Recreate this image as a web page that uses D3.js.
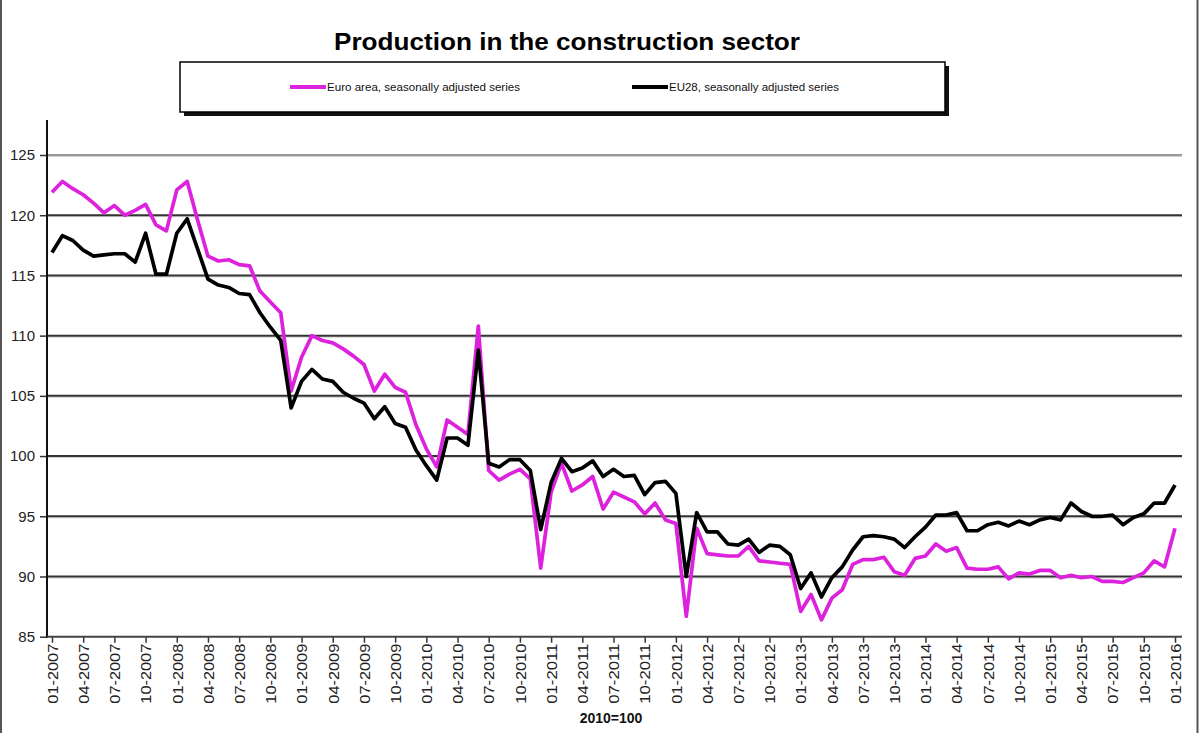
<!DOCTYPE html>
<html>
<head>
<meta charset="utf-8">
<script src="https://cdn.jsdelivr.net/npm/d3@7"></script>
<style>
  html, body { margin: 0; padding: 0; background: #fff; }
  svg { display: block; font-family: "Liberation Sans", Arial, sans-serif; }
</style>
</head>
<body>
<svg id="chart" width="1200" height="733"></svg>
<script>
// ---- Data ----
const months = [
  "01-2007","02-2007","03-2007","04-2007","05-2007","06-2007","07-2007","08-2007","09-2007","10-2007","11-2007","12-2007",
  "01-2008","02-2008","03-2008","04-2008","05-2008","06-2008","07-2008","08-2008","09-2008","10-2008","11-2008","12-2008",
  "01-2009","02-2009","03-2009","04-2009","05-2009","06-2009","07-2009","08-2009","09-2009","10-2009","11-2009","12-2009",
  "01-2010","02-2010","03-2010","04-2010","05-2010","06-2010","07-2010","08-2010","09-2010","10-2010","11-2010","12-2010",
  "01-2011","02-2011","03-2011","04-2011","05-2011","06-2011","07-2011","08-2011","09-2011","10-2011","11-2011","12-2011",
  "01-2012","02-2012","03-2012","04-2012","05-2012","06-2012","07-2012","08-2012","09-2012","10-2012","11-2012","12-2012",
  "01-2013","02-2013","03-2013","04-2013","05-2013","06-2013","07-2013","08-2013","09-2013","10-2013","11-2013","12-2013",
  "01-2014","02-2014","03-2014","04-2014","05-2014","06-2014","07-2014","08-2014","09-2014","10-2014","11-2014","12-2014",
  "01-2015","02-2015","03-2015","04-2015","05-2015","06-2015","07-2015","08-2015","09-2015","10-2015","11-2015","12-2015",
  "01-2016"
];

const tickLabels = [
  "01-2007","04-2007","07-2007","10-2007","01-2008","04-2008","07-2008","10-2008",
  "01-2009","04-2009","07-2009","10-2009","01-2010","04-2010","07-2010","10-2010",
  "01-2011","04-2011","07-2011","10-2011","01-2012","04-2012","07-2012","10-2012",
  "01-2013","04-2013","07-2013","10-2013","01-2014","04-2014","07-2014","10-2014",
  "01-2015","04-2015","07-2015","10-2015","01-2016"
];

const yTicks = [85, 90, 95, 100, 105, 110, 115, 120, 125];

const euroArea = [
  121.9,122.8,122.2,121.7,121.0,120.2,120.8,120.0,120.4,120.9,119.2,118.7,
  122.1,122.8,119.6,116.6,116.2,116.3,115.9,115.8,113.7,112.8,111.9,105.4,
  108.2,110.0,109.6,109.4,108.9,108.3,107.6,105.4,106.8,105.7,105.3,102.6,
  100.6,99.1,103.0,102.4,101.8,110.8,98.8,98.0,98.5,98.9,98.1,90.7,
  97.0,99.4,97.1,97.6,98.3,95.6,97.0,96.6,96.2,95.2,96.1,94.7,
  94.4,86.7,94.0,91.9,91.8,91.7,91.7,92.5,91.3,91.2,91.1,91.0,
  87.1,88.5,86.4,88.2,88.9,91.0,91.4,91.4,91.6,90.4,90.1,91.5,
  91.7,92.7,92.1,92.4,90.7,90.6,90.6,90.8,89.8,90.3,90.2,90.5,
  90.5,89.9,90.1,89.9,90.0,89.6,89.6,89.5,89.9,90.3,91.3,90.8,
  94.0
];

const eu28 = [
  116.9,118.3,117.9,117.1,116.6,116.7,116.8,116.8,116.1,118.5,115.1,115.1,
  118.5,119.7,117.2,114.7,114.2,114.0,113.5,113.4,111.9,110.7,109.6,104.0,
  106.2,107.2,106.4,106.2,105.3,104.8,104.4,103.1,104.1,102.7,102.4,100.5,
  99.2,98.0,101.5,101.5,100.9,108.8,99.4,99.1,99.7,99.7,98.8,93.9,
  97.8,99.8,98.7,99.0,99.6,98.3,98.9,98.3,98.4,96.8,97.8,97.9,
  96.9,90.0,95.3,93.7,93.7,92.7,92.6,93.1,92.0,92.6,92.5,91.8,
  89.0,90.3,88.3,89.9,90.8,92.2,93.3,93.4,93.3,93.1,92.4,93.3,
  94.1,95.1,95.1,95.3,93.8,93.8,94.3,94.5,94.2,94.6,94.3,94.7,
  94.9,94.7,96.1,95.4,95.0,95.0,95.1,94.3,94.9,95.2,96.1,96.1,
  97.6
];

const seriesNames = ["Euro area, seasonally adjusted series", "EU28, seasonally adjusted series"];
const seriesColors = ["#dd22dd", "#000000"];

// ---- Chart ----
const svg = d3.select("#chart");

const plot = { left: 47, right: 1182, top: 120, bottom: 637 };

const x = d3.scalePoint().domain(months).range([52, 1175]);
const y = d3.scaleLinear().domain([85, 125]).range([636.7, 155]);

// outer frame side lines
svg.append("line").attr("x1", 1).attr("x2", 1).attr("y1", 0).attr("y2", 733)
  .attr("stroke", "#555").attr("stroke-width", 2);
svg.append("line").attr("x1", 1197.5).attr("x2", 1197.5).attr("y1", 0).attr("y2", 733)
  .attr("stroke", "#555").attr("stroke-width", 2);

// title
svg.append("text")
  .attr("x", 567).attr("y", 50)
  .attr("text-anchor", "middle")
  .attr("font-size", 24).attr("font-weight", "bold")
  .attr("fill", "#000")
  .attr("textLength", 466).attr("lengthAdjust", "spacingAndGlyphs")
  .text("Production in the construction sector");

// legend box with shadow
svg.append("rect").attr("x", 184).attr("y", 66).attr("width", 765).attr("height", 50)
  .attr("fill", "#111");
svg.append("rect").attr("x", 180).attr("y", 62).attr("width", 765).attr("height", 50)
  .attr("fill", "#fff").attr("stroke", "#000").attr("stroke-width", 1.5);

const legendItems = [
  { x1: 290, x2: 326, tx: 327, tw: 193 },
  { x1: 632, x2: 668, tx: 669, tw: 170 }
];
legendItems.forEach((li, k) => {
  svg.append("line").attr("x1", li.x1).attr("x2", li.x2).attr("y1", 87).attr("y2", 87)
    .attr("stroke", seriesColors[k]).attr("stroke-width", 4);
  svg.append("text").attr("x", li.tx).attr("y", 90.5)
    .attr("font-size", 10).attr("fill", "#111")
    .attr("textLength", li.tw).attr("lengthAdjust", "spacingAndGlyphs")
    .text(seriesNames[k]);
});

// gridlines
const grid = svg.append("g");
yTicks.filter(v => v > 85).forEach(v => {
  grid.append("line")
    .attr("x1", plot.left).attr("x2", plot.right)
    .attr("y1", y(v) + 1.5).attr("y2", y(v) + 1.5)
    .attr("stroke", "#d0d0d0").attr("stroke-width", 1);
  grid.append("line")
    .attr("x1", plot.left).attr("x2", plot.right)
    .attr("y1", y(v)).attr("y2", y(v))
    .attr("stroke", v === 125 ? "#999" : "#333").attr("stroke-width", 2);
});

// y axis
const yAxis = d3.axisLeft(y).tickValues(yTicks).tickSize(7).tickPadding(5).tickFormat(d3.format("d"));
const gy = svg.append("g").attr("transform", `translate(${plot.left},0)`).call(yAxis);
gy.select(".domain").remove();
gy.selectAll(".tick line").attr("stroke", "#333").attr("stroke-width", 1.5);
gy.selectAll(".tick text").attr("font-size", 15).attr("fill", "#222")
  .attr("font-family", "'Liberation Sans', Arial, sans-serif");
svg.append("line").attr("x1", plot.left).attr("x2", plot.left)
  .attr("y1", plot.top).attr("y2", y(85) + 1)
  .attr("stroke", "#111").attr("stroke-width", 2);

// x axis
const xAxis = d3.axisBottom(x).tickValues(tickLabels).tickSize(6).tickPadding(4);
const gx = svg.append("g").attr("transform", `translate(0,${y(85)})`).call(xAxis);
gx.select(".domain").remove();
svg.append("line").attr("x1", plot.left).attr("x2", plot.right)
  .attr("y1", y(85)).attr("y2", y(85))
  .attr("stroke", "#444").attr("stroke-width", 2);
gx.selectAll(".tick line").attr("stroke", "#333").attr("stroke-width", 1.5);
gx.selectAll(".tick text")
  .attr("font-size", 15).attr("fill", "#222")
  .attr("font-family", "'Liberation Sans', Arial, sans-serif")
  .attr("text-anchor", "end")
  .attr("dy", "0.35em")
  .attr("transform", "translate(0,7) rotate(-90)")
  .attr("x", 0).attr("y", 0)
  .attr("textLength", 60).attr("lengthAdjust", "spacingAndGlyphs");

// x axis title
svg.append("text").attr("x", 611).attr("y", 723)
  .attr("text-anchor", "middle").attr("font-size", 14).attr("font-weight", "bold")
  .attr("fill", "#111").text("2010=100");

// lines
const line = d3.line().x((d, i) => x(months[i])).y(d => y(d));
[euroArea, eu28].forEach((s, k) => {
  svg.append("path").datum(s)
    .attr("d", line)
    .attr("fill", "none")
    .attr("stroke", seriesColors[k])
    .attr("stroke-width", 3.7)
    .attr("stroke-linejoin", "round");
});
</script>
</body>
</html>
